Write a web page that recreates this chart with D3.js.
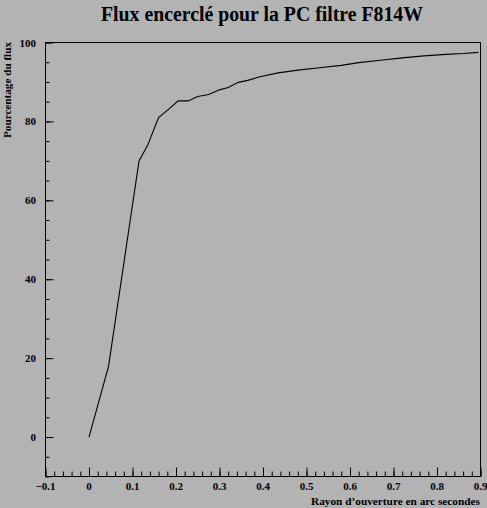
<!DOCTYPE html>
<html><head><meta charset="utf-8">
<script src="https://cdn.jsdelivr.net/npm/d3@7"></script>
<style>
html,body{margin:0;padding:0;background:#b3b3b3;}
svg{display:block;}
text{font-family:"Liberation Serif","Times New Roman",serif;font-weight:bold;fill:#000;}
</style></head>
<body>
<svg id="c" width="487" height="508"></svg>
<script>
const radius = [0, 0.045, 0.115, 0.135, 0.16, 0.182, 0.205, 0.228, 0.25, 0.275, 0.3, 0.32, 0.343, 0.365, 0.393, 0.435, 0.48, 0.53, 0.58, 0.62, 0.67, 0.72, 0.77, 0.82, 0.86, 0.895];
const flux   = [0, 18, 70, 74, 81, 83, 85.2, 85.2, 86.3, 86.8, 88, 88.6, 89.9, 90.4, 91.3, 92.3, 93, 93.6, 94.2, 94.9, 95.5, 96.1, 96.6, 97.0, 97.2, 97.5];
const xTicks = [-0.1, 0, 0.1, 0.2, 0.3, 0.4, 0.5, 0.6, 0.7, 0.8, 0.9];
const yTicks = [0, 20, 40, 60, 80, 100];
const title = "Flux encerclé pour la PC filtre F814W";
const xTitle = "Rayon d\u2019ouverture en arc secondes";
const yTitle = "Pourcentage du flux";

const L = 45.5, R = 480.5, T = 42.5, B = 476.5;
const svg = d3.select("#c");
const x = d3.scaleLinear().domain([-0.1, 0.9]).range([L, R]);
const y = d3.scaleLinear().domain([-10, 100]).range([B, T]);

svg.append("rect").attr("x", L).attr("y", T).attr("width", R - L).attr("height", B - T)
  .attr("fill", "none").attr("stroke", "#000").attr("stroke-width", 1);

// x axis ticks
const xMinor = d3.range(0, 51).map(i => -0.1 + i * 0.02);
const gx = svg.append("g").attr("transform", `translate(0,${B})`);
gx.call(d3.axisTop(x).tickValues(xMinor).tickSize(5).tickFormat(""))
  .call(g => g.select(".domain").remove());
gx.append("g").call(d3.axisTop(x).tickValues(xTicks).tickSize(9).tickFormat(""))
  .call(g => g.select(".domain").remove());
svg.selectAll(".tick line").attr("stroke", "#000");
svg.append("g").selectAll("text").data(xTicks).join("text")
  .attr("x", d => x(d)).attr("y", 490).attr("text-anchor", "middle")
  .attr("font-size", 11).text(d => d3.format("")(+d.toFixed(1)));

// y axis ticks
const yMinor = d3.range(0, 23).map(i => -10 + i * 5);
const gy = svg.append("g").attr("transform", `translate(${L},0)`);
gy.call(d3.axisRight(y).tickValues(yMinor).tickSize(4).tickFormat(""))
  .call(g => g.select(".domain").remove());
gy.append("g").call(d3.axisRight(y).tickValues(yTicks).tickSize(8).tickFormat(""))
  .call(g => g.select(".domain").remove());
svg.selectAll(".tick line").attr("stroke", "#000");
svg.append("g").selectAll("text").data(yTicks).join("text")
  .attr("x", 36).attr("y", d => y(d) + 4).attr("text-anchor", "end")
  .attr("font-size", 11).text(d => d);

// curve
const pts = radius.map((r, i) => [r, flux[i]]);
svg.append("path").datum(pts)
  .attr("d", d3.line().x(d => x(d[0])).y(d => y(d[1])))
  .attr("fill", "none").attr("stroke", "#000").attr("stroke-width", 1.1);

// titles
svg.append("text").attr("x", 262).attr("y", 21).attr("text-anchor", "middle")
  .attr("font-size", 20).attr("textLength", 322).attr("lengthAdjust", "spacingAndGlyphs").text(title);
svg.append("text").attr("x", 480).attr("y", 505).attr("text-anchor", "end")
  .attr("font-size", 11).attr("textLength", 169).attr("lengthAdjust", "spacingAndGlyphs").text(xTitle);
svg.append("text").attr("transform", "translate(11,42) rotate(-90)")
  .attr("text-anchor", "end").attr("font-size", 11).attr("textLength", 96).attr("lengthAdjust", "spacingAndGlyphs").text(yTitle);
</script>
</body></html>
